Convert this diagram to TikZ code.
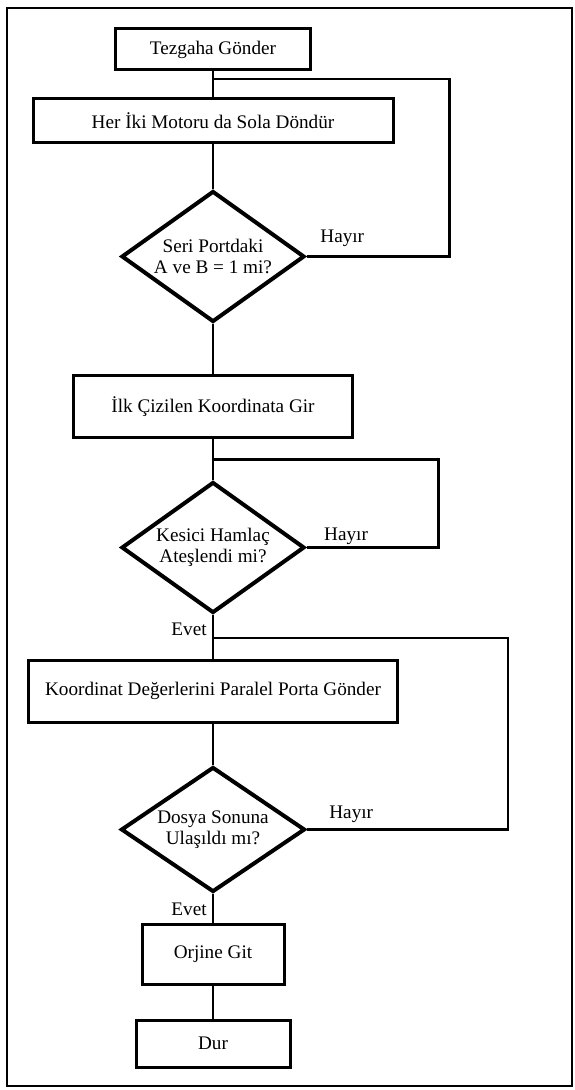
\documentclass[tikz,border=0pt]{standalone}
\usepackage{fontspec}
\setmainfont{Liberation Serif}
\usepackage{tikz}
\usetikzlibrary{shapes,shapes.geometric,calc,positioning}

\tikzset{
  islem/.style={draw,line width=1.5pt,rectangle,inner sep=0pt,align=center},
  karar/.style={draw,line width=2pt,diamond,aspect=1.4,inner sep=0pt,align=center,
                minimum width=91.5pt,minimum height=65.5pt},
  hat/.style={-,line width=1.2pt},
  etiket/.style={inner sep=0pt},
}

\begin{document}
\begin{tikzpicture}[x=0.5pt,y=-0.5pt,font=\fontsize{9.6}{10.3}\selectfont]
\useasboundingbox (0,0) rectangle (574,1090);
\draw[line width=1.2pt] (7,8) rectangle (572,1086);

\node[islem,minimum width=97.5pt,minimum height=20.5pt] (gonder) at (213,49.5) {Tezgaha Gönder};
\node[islem,minimum width=180pt,minimum height=22pt] (motor) [below of = gonder,node distance=35.75pt] {Her İki Motoru da Sola Döndür};
\node[karar] (port) [below of = motor,node distance=67.75pt] {Seri Portdaki\\A ve B = 1 mi?};
\node[islem,minimum width=139.5pt,minimum height=30.5pt] (ilk) [below of = port,node distance=75pt] {İlk Çizilen Koordinata Gir};
\node[karar] (hamlac) [below of = ilk,node distance=70.5pt] {Kesici Hamlaç\\Ateşlendi mi?};
\node[islem,minimum width=184.5pt,minimum height=31pt] (paralel) [below of = hamlac,node distance=71.75pt] {Koordinat Değerlerini Paralel Porta Gönder};
\node[karar,minimum width=92pt,minimum height=62.5pt] (dosya) [below of = paralel,node distance=69.25pt] {Dosya Sonuna\\Ulaşıldı mı?};
\node[islem,minimum width=71pt,minimum height=30pt] (orjin) [below of = dosya,node distance=62.25pt] {Orjine Git};
\node[islem,minimum width=77pt,minimum height=23.5pt] (dur) [below of = orjin,node distance=44.75pt] {Dur};

\coordinate (j1) at ($(gonder.south)!0.28!(motor.north)$);
\coordinate (j2) at ($(ilk.south)!0.51!(hamlac.north)$);
\coordinate (j3) at ($(hamlac.south)!0.53!(paralel.north)$);

\draw[hat] (gonder) -- (motor);
\draw[hat] (motor) -- (port);
\draw[hat] (port) -- (ilk);
\draw[hat] (ilk) -- (hamlac);
\draw[hat] (hamlac) -- (paralel);
\draw[hat] (paralel) -- (dosya);
\draw[hat] (dosya) -- (orjin);
\draw[hat] (orjin) -- (dur);

\draw[hat] (port.east) -- node[etiket,pos=0.25,above=4.5pt] (h1) {Hayır} ++(71.5pt,0) |- (j1);
\draw[hat] (hamlac.east) -- node[etiket,pos=0.3,above=1pt] (h2) {Hayır} ++(66pt,0) |- (j2);
\draw[hat] (dosya.east) -- node[etiket,pos=0.22,above=3pt] (h3) {Hayır} ++(100.5pt,0) |- (j3);

\node[etiket,anchor=north east] (e1) at ($(hamlac.south)+(-3pt,-4pt)$) {Evet};
\node[etiket,anchor=north east] (e2) at ($(dosya.south)+(-3pt,-4.5pt)$) {Evet};

\end{tikzpicture}
\end{document}
